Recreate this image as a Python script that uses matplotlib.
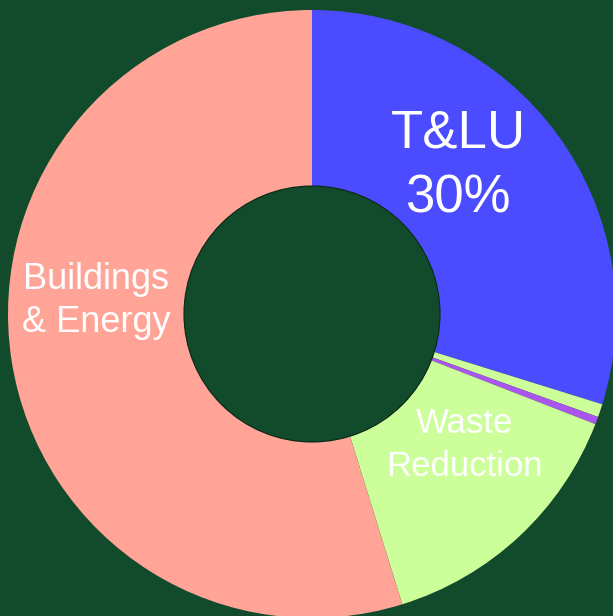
import matplotlib
matplotlib.use("Agg")
import matplotlib.pyplot as plt
from matplotlib.patches import Circle

categories = ["T&LU", "Other", "Other 2", "Waste Reduction", "Buildings & Energy"]
values = [29.8, 0.7, 0.4, 14.3, 54.8]
colors = ["#4B4BFF", "#CCFF99", "#AA55EE", "#CCFF99", "#FFA496"]
bg = "#124B2B"

fig = plt.figure(figsize=(6.13, 6.16), dpi=100, facecolor=bg)
ax = fig.add_axes([0, 0, 1, 1])
ax.set_facecolor(bg)

cx, cy, R, r = 312, 302, 304, 128
ax.pie(values, colors=colors, startangle=90, counterclock=False,
       center=(cx, cy), radius=R, frame=True,
       wedgeprops=dict(width=R - r, linewidth=0))
ax.set_xlim(0, 613)
ax.set_ylim(0, 616)
ax.set_aspect("equal")
ax.axis("off")
ax.add_patch(Circle((cx, cy), r, facecolor=bg, edgecolor="#0a2a18", linewidth=0.8, zorder=5))

font = "Liberation Sans"
ax.text(458, 616 - 166, "T&LU\n30%", color="white", fontsize=38, family=font,
        ha="center", va="center", linespacing=1.36)
ax.text(96, 616 - 301, "Buildings\n& Energy", color="white", fontsize=26, family=font,
        ha="center", va="center", linespacing=1.32)
ax.text(464, 616 - 445, "Waste\nReduction", color="white", fontsize=25, family=font,
        ha="center", va="center", linespacing=1.4)

fig.savefig("out.png", dpi=100, facecolor=bg)
